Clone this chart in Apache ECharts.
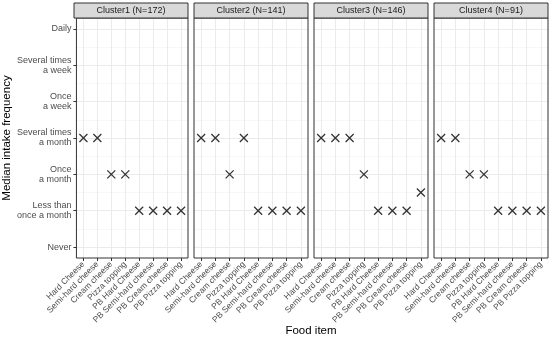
<!DOCTYPE html>
<html><head><meta charset="utf-8">
<script src="https://cdn.jsdelivr.net/npm/echarts@6/dist/echarts.min.js"></script>
<style>html,body{margin:0;padding:0;background:#fff}#c{width:550px;height:340px}</style>
</head><body><div id="c"></div>
<script>
const categories = ["Hard Cheese","Semi-hard cheese","Cream cheese","Pizza topping","PB Hard Cheese","PB Semi-hard cheese","PB Cream cheese","PB Pizza topping"];
const panels = ["Cluster1 (N=172)","Cluster2 (N=141)","Cluster3 (N=146)","Cluster4 (N=91)"];
const cluster1 = [4,4,3,3,2,2,2,2];
const cluster2 = [4,4,3,4,2,2,2,2];
const cluster3 = [4,4,4,3,2,2,2,2.5];
const cluster4 = [4,4,3,3,2,2,2,2];
const freqLabels = ["Never","Less than\nonce a month","Once\na month","Several times\na month","Once\na week","Several times\na week","Daily"];
const freqValues = [1,2,3,4,5,6,7];
const minorValues = [1.5,2.5,3.5,4.5,5.5,6.5];
const allSeries = [cluster1, cluster2, cluster3, cluster4];

const L0 = 74, W = 114, GAP = 6, TOP = 18, H = 240, STRIP = 15;
const font = 'Liberation Sans, Arial, sans-serif';
const grids = [], xAxes = [], yAxes = [], series = [], graphics = [];
const xPath = 'path://M0,0L10,10M10,0L0,10';
panels.forEach((p, i) => {
  const left = L0 + i * (W + GAP);
  grids.push({left: left, top: TOP, width: W, height: H, show: true, borderColor: '#333', borderWidth: 1, backgroundColor: 'transparent', z: 3});
  xAxes.push({type: 'category', gridIndex: i, data: categories, boundaryGap: true,
    axisLine: {show: false},
    axisTick: {show: true, alignWithLabel: true, length: 3, lineStyle: {color: '#333'}},
    splitLine: {show: true, alignWithLabel: true, lineStyle: {color: '#ebebeb', width: 1}},
    axisLabel: {interval: 0, rotate: 45, fontSize: 8.5, color: '#4d4d4d', fontFamily: font, margin: 5}});
  yAxes.push({type: 'value', gridIndex: i, min: 0.7, max: 7.3,
    axisLine: {show: false},
    axisTick: {show: i === 0, length: 3, customValues: freqValues, lineStyle: {color: '#333'}},
    axisLabel: {show: i === 0, customValues: freqValues, fontSize: 9, lineHeight: 10, color: '#4d4d4d', fontFamily: font, margin: 5,
      formatter: v => freqLabels[freqValues.indexOf(Math.round(v))] || ''},
    splitLine: {show: true, lineStyle: {color: '#ebebeb', width: 1}},
    name: i === 0 ? 'Median intake frequency' : '', nameLocation: 'middle', nameGap: 56,
    nameTextStyle: {fontSize: 11.5, color: '#000', fontFamily: font}});
  yAxes.push({type: 'value', gridIndex: i, min: 0.7, max: 7.3,
    axisLine: {show: false},
    axisTick: {show: false, customValues: minorValues},
    axisLabel: {show: false, customValues: minorValues},
    splitLine: {show: true, lineStyle: {color: '#f5f5f5', width: 0.8}}});
  series.push({type: 'scatter', xAxisIndex: i, yAxisIndex: i * 2,
    data: allSeries[i], symbol: xPath, symbolSize: 8,
    itemStyle: {color: 'none', borderColor: '#000', borderWidth: 1.3}, z: 5, silent: true});
  graphics.push({type: 'rect', shape: {x: left, y: TOP - STRIP, width: W, height: STRIP},
    style: {fill: '#d9d9d9', stroke: '#333', lineWidth: 1}, z: 10});
  graphics.push({type: 'text', x: left + W / 2, y: TOP - STRIP / 2,
    style: {text: p, fill: '#1a1a1a', font: '9px ' + font, textAlign: 'center', textVerticalAlign: 'middle'}, z: 11});
});
graphics.push({type: 'text', x: L0 + (4 * W + 3 * GAP) / 2, y: 331,
  style: {text: 'Food item', fill: '#000', font: '11.5px ' + font, textAlign: 'center', textVerticalAlign: 'middle'}, z: 11});

const chart = echarts.init(document.getElementById('c'), null, {renderer: 'canvas'});
chart.setOption({animation: false, grid: grids, xAxis: xAxes, yAxis: yAxes, series: series, graphic: graphics});
</script></body></html>
